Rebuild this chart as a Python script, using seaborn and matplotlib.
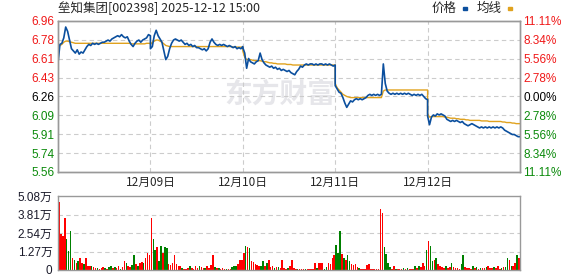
import numpy as np
import pandas as pd
import matplotlib
matplotlib.use("Agg")
import matplotlib.pyplot as plt
import matplotlib.patches as mpatches
import seaborn as sns

# ---------------- data ----------------
title = "垒知集团[002398] 2025-12-12 15:00"
day_labels = ["12月08日", "12月09日", "12月10日", "12月11日", "12月12日"]
pre_close = 6.26
price_labels = ["6.96", "6.78", "6.61", "6.43", "6.26", "6.09", "5.91", "5.74", "5.56"]
pct_labels = ["11.11%", "8.34%", "5.56%", "2.78%", "0.00%", "2.78%", "5.56%", "8.34%", "11.11%"]
vol_tick_values = [0, 12700, 25400, 38100, 50800]
vol_tick_labels = ["0", "1.27万", "2.54万", "3.81万", "5.08万"]

# price every 5 minutes (0..240) for each day
price_d1 = [6.57, 6.74, 6.75, 6.80, 6.90, 6.86, 6.78, 6.70, 6.68, 6.66, 6.69, 6.65, 6.67, 6.66, 6.69,
            6.72, 6.74, 6.73, 6.75, 6.74, 6.75, 6.74, 6.75, 6.76, 6.76,
            6.77, 6.78, 6.77, 6.79, 6.80, 6.81, 6.82, 6.81, 6.83, 6.81, 6.80, 6.81, 6.77, 6.74, 6.72,
            6.75, 6.77, 6.78, 6.76, 6.78, 6.79, 6.80, 6.83, 6.82]
price_d2 = [6.70, 6.72, 6.82, 6.87, 6.82, 6.79, 6.76, 6.68, 6.60, 6.63, 6.70, 6.75, 6.78, 6.79, 6.78,
            6.77, 6.78, 6.76, 6.74, 6.75, 6.73, 6.74, 6.72, 6.73, 6.71,
            6.71, 6.70, 6.69, 6.70, 6.68, 6.70, 6.76, 6.79, 6.76, 6.74, 6.73, 6.74, 6.73, 6.74, 6.73,
            6.72, 6.73, 6.72, 6.71, 6.72, 6.70, 6.71, 6.70, 6.72]
price_d3 = [6.71, 6.66, 6.52, 6.61, 6.58, 6.57, 6.56, 6.58, 6.59, 6.66, 6.60, 6.57, 6.55, 6.54, 6.53,
            6.54, 6.52, 6.53, 6.51, 6.52, 6.50, 6.51, 6.50, 6.49, 6.50,
            6.48, 6.47, 6.46, 6.49, 6.51, 6.54, 6.53, 6.55, 6.56, 6.55, 6.56, 6.56, 6.55, 6.56, 6.55,
            6.56, 6.56, 6.55, 6.56, 6.55, 6.56, 6.55, 6.54, 6.55]
price_d4 = [6.36, 6.33, 6.30, 6.29, 6.25, 6.20, 6.16, 6.19, 6.22, 6.21, 6.23, 6.24, 6.23, 6.24, 6.23,
            6.24, 6.25, 6.27, 6.28, 6.27, 6.28, 6.27, 6.28, 6.27, 6.28,
            6.56, 6.38, 6.31, 6.29, 6.28, 6.29, 6.28, 6.29, 6.28, 6.29, 6.28, 6.29, 6.28, 6.29, 6.28,
            6.27, 6.28, 6.27, 6.28, 6.27, 6.28, 6.26, 6.24, 6.23]
price_d5 = [6.08, 6.00, 6.07, 6.09, 6.08, 6.10, 6.09, 6.10, 6.09, 6.08, 6.05, 6.04, 6.03, 6.04, 6.03,
            6.04, 6.03, 6.02, 6.03, 6.01, 6.00, 5.99, 6.00, 6.01, 6.00,
            5.99, 5.98, 5.97, 5.98, 5.97, 5.98, 5.97, 5.98, 5.97, 5.98, 5.97, 5.98, 5.97, 5.98, 5.97,
            5.95, 5.94, 5.93, 5.92, 5.91, 5.91, 5.90, 5.89, 5.89]

avg_d1 = [6.70, 6.73, 6.74, 6.76, 6.77, 6.77, 6.765, 6.76, 6.755, 6.75, 6.75, 6.75, 6.75, 6.75, 6.75,
          6.75, 6.75, 6.75, 6.75, 6.75, 6.75, 6.75, 6.75, 6.75, 6.75,
          6.75, 6.75, 6.75, 6.75, 6.75, 6.75, 6.75, 6.75, 6.75, 6.75, 6.75, 6.75, 6.75, 6.745, 6.745,
          6.745, 6.745, 6.745, 6.745, 6.745, 6.745, 6.75, 6.75, 6.75]
avg_d2 = [6.74, 6.76, 6.77, 6.78, 6.78, 6.77, 6.76, 6.745, 6.73, 6.725, 6.72, 6.72, 6.72, 6.72, 6.72,
          6.72, 6.72, 6.72, 6.72, 6.72, 6.72, 6.72, 6.72, 6.72, 6.72,
          6.72, 6.72, 6.72, 6.72, 6.72, 6.72, 6.72, 6.72, 6.72, 6.72, 6.72, 6.72, 6.72, 6.72, 6.72,
          6.72, 6.72, 6.72, 6.715, 6.715, 6.715, 6.715, 6.715, 6.715]
avg_d3 = [6.68, 6.62, 6.60, 6.60, 6.60, 6.595, 6.59, 6.59, 6.59, 6.59, 6.585, 6.58, 6.58, 6.575, 6.57,
          6.57, 6.565, 6.565, 6.56, 6.56, 6.56, 6.56, 6.56, 6.555, 6.555,
          6.555, 6.55, 6.55, 6.55, 6.55, 6.55, 6.55, 6.55, 6.55, 6.55, 6.55, 6.55, 6.55, 6.55, 6.55,
          6.55, 6.55, 6.55, 6.55, 6.55, 6.55, 6.55, 6.55, 6.55]
avg_d4 = [6.38, 6.34, 6.32, 6.30, 6.28, 6.27, 6.26, 6.255, 6.25, 6.25, 6.25, 6.25, 6.25, 6.25, 6.25,
          6.25, 6.25, 6.25, 6.25, 6.25, 6.25, 6.25, 6.25, 6.25, 6.25,
          6.31, 6.32, 6.32, 6.32, 6.32, 6.32, 6.32, 6.32, 6.32, 6.32, 6.32, 6.32, 6.32, 6.32, 6.32,
          6.32, 6.32, 6.32, 6.32, 6.32, 6.32, 6.32, 6.32, 6.32]
avg_d5 = [6.10, 6.07, 6.075, 6.075, 6.075, 6.075, 6.075, 6.075, 6.075, 6.07, 6.07, 6.065, 6.06, 6.06, 6.06,
          6.055, 6.055, 6.05, 6.05, 6.05, 6.045, 6.045, 6.04, 6.04, 6.04,
          6.04, 6.04, 6.04, 6.035, 6.035, 6.035, 6.035, 6.03, 6.03, 6.03, 6.03, 6.03, 6.03, 6.03, 6.025,
          6.025, 6.02, 6.02, 6.02, 6.015, 6.015, 6.01, 6.01, 6.01]

# volume (万 shares) per 5-minute bin, r = up, g = down
vol_d1 = [4.7, 2.5, 2.3, 3.6, 2.1, 1.3, 2.7, 0.8, 0.7, 0.5, 0.6, 0.8, 0.5, 0.4, 0.8, 0.3, 0.3, 0.25, 0.2, 0.15,
          0.12, 0.1, 0.12, 0.2, 0.15, 0.1, 0.2, 0.3, 0.15, 0.2, 0.15, 0.3, 0.1, 0.2, 0.6, 0.45, 0.3, 0.2, 0.35, 1.0,
          0.4, 0.3, 0.45, 0.55, 0.5, 0.8, 1.2, 1.0]
dir_d1 = "rrrrgggrgr" "grrgrrrgrr" "grrrgrggrg" "rrgrrgrrgg" "rgrrgrrr"
vol_d2 = [3.6, 2.1, 1.4, 1.6, 0.6, 1.65, 1.2, 1.55, 1.5, 0.4, 0.35, 0.5, 1.0, 0.4, 0.3, 0.25, 0.15, 0.1, 0.1, 0.12,
          0.3, 0.12, 0.1, 0.3, 0.15, 0.3, 0.2, 0.12, 0.15, 0.3, 0.12, 0.35, 1.0, 0.2, 0.12, 0.15, 0.1, 0.12, 0.08, 0.1,
          0.08, 0.1, 0.2, 0.3, 0.25, 0.4, 0.7, 0.7]
dir_d2 = "rggrggrggr" "rrrrrrgrrr" "grrrrgrrgr" "rrrgrgrrrg" "rrgggrrr"
vol_d3 = [1.2, 1.65, 1.55, 1.5, 0.6, 0.55, 0.4, 0.35, 0.3, 0.25, 0.6, 0.3, 0.5, 0.7, 0.2, 0.25, 0.15, 0.2, 0.2, 0.12,
          0.7, 0.15, 0.1, 0.15, 0.3, 0.7, 0.15, 0.08, 0.05, 0.08, 0.05, 0.05, 0.08, 0.05, 0.05, 0.05, 0.05, 0.5, 0.15, 0.5,
          0.45, 0.5, 0.1, 0.2, 0.5, 0.4, 0.8, 1.0]
dir_d3 = "rgrgrrrrrg" "grgrrrgrgr" "rrrgrrrrgr" "rrgrrrrrgr" "rrggrrrr"
vol_d4 = [1.75, 1.2, 2.7, 1.1, 0.8, 0.7, 1.0, 0.6, 0.4, 0.35, 0.4, 0.2, 0.12, 0.08, 0.05, 0.05, 0.35, 0.4, 0.05, 0.05,
          0.05, 0.05, 0.05, 4.2, 3.9, 1.6, 1.1, 0.5, 0.2, 0.1, 0.3, 0.1, 0.05, 0.05, 0.05, 0.15, 0.05, 0.12, 0.05, 0.05,
          0.1, 0.3, 0.15, 0.3, 0.2, 0.5, 0.3, 1.4]
dir_d4 = "gggrgrggrr" "rrgrrrrrrr" "rrrrrggggr" "rgrrrgrgrr" "rgrgrrrg"
vol_d5 = [2.0, 1.65, 0.6, 0.7, 0.85, 0.4, 0.25, 0.2, 0.15, 0.3, 0.15, 0.2, 0.45, 0.2, 0.12, 0.15, 0.1, 0.4, 1.0, 0.2,
          0.15, 0.12, 0.1, 0.25, 0.15, 0.2, 0.1, 0.15, 0.12, 0.15, 0.2, 0.3, 0.15, 0.12, 0.2, 0.12, 0.3, 0.1, 0.15, 0.2,
          0.2, 0.8, 0.7, 0.25, 0.3, 0.5, 1.0, 0.8]
dir_d5 = "rggrgrrrrg" "rrgrrrrggr" "rrrgrgrgrr" "grrrgrrrgr" "ggrgrrgr"

# ---------------- build tables ----------------
prices = [price_d1, price_d2, price_d3, price_d4, price_d5]
avgs = [avg_d1, avg_d2, avg_d3, avg_d4, avg_d5]
vols = [vol_d1, vol_d2, vol_d3, vol_d4, vol_d5]
dirs = [dir_d1, dir_d2, dir_d3, dir_d4, dir_d5]

rows = []
for d in range(5):
    for k, (p, a) in enumerate(zip(prices[d], avgs[d])):
        rows.append((d * 240 + k * 5, p, a))
pdf = pd.DataFrame(rows, columns=["t", "price", "avg"])

vrows = []
for d in range(5):
    for k, (v, s) in enumerate(zip(vols[d], dirs[d])):
        vrows.append((d * 240 + k * 5 + 2.5, v * 10000, s))
vdf = pd.DataFrame(vrows, columns=["t", "vol", "dir"])

# ---------------- figure ----------------
sns.set_style("white")
plt.rcParams["font.family"] = ["Liberation Sans", "Noto Sans CJK SC", "DejaVu Sans"]

W, H = 578, 276
fig = plt.figure(figsize=(W / 100, H / 100), dpi=100)
L, R = 58 / W, 520 / W
ax = fig.add_axes([L, 1 - 172 / H, R - L, (172 - 21) / H])
axv = fig.add_axes([L, 1 - 270 / H, R - L, (270 - 196) / H])

ymin, ymax = pre_close * (1 - 0.1111), pre_close * (1 + 0.1111)
yt = np.linspace(ymax, ymin, 9)
grid_kw = dict(color="#cccccc", lw=0.8, ls=(0, (4, 3)), zorder=0)

ax.text(0.48, 0.51, "东方财富", transform=ax.transAxes, fontsize=20, fontweight="bold",
        color="#e6e6ea", ha="center", va="center", family=["Noto Sans CJK SC"], zorder=0)

for y in yt[1:-1]:
    ax.axhline(y, **grid_kw)
for d in range(1, 5):
    ax.axvline(d * 240, **grid_kw)

sns.lineplot(data=pdf, x="t", y="avg", estimator=None, sort=False, color="#e0a21e", lw=1.0, ax=ax, zorder=3)
sns.lineplot(data=pdf, x="t", y="price", estimator=None, sort=False, color="#0b4f9e", lw=1.2, ax=ax, zorder=4)

ax.set_xlim(0, 1200)
ax.set_ylim(ymin, ymax)
ax.set_xlabel("")
ax.set_ylabel("")
ax.set_xticks([240, 480, 720, 960])
ax.set_xticklabels(day_labels[1:], fontsize=8.5, family=["Noto Sans CJK SC"])
ax.set_yticks(yt)
ax.set_yticklabels(price_labels, fontsize=8.5)
ax.tick_params(axis="both", length=0)
ax.tick_params(axis="y", pad=2.5)
ax.tick_params(axis="x", pad=3)
label_colors = ["#f01818"] * 4 + ["#000000"] + ["#0a8a0a"] * 4
for lbl, c in zip(ax.get_yticklabels(), label_colors):
    lbl.set_color(c)

axr = ax.twinx()
axr.set_ylim(ymin, ymax)
axr.set_yticks(yt)
axr.set_yticklabels(pct_labels, fontsize=8.5)
axr.tick_params(axis="y", length=0, pad=2.5)
for lbl, c in zip(axr.get_yticklabels(), label_colors):
    lbl.set_color(c)

for a in (ax, axr, axv):
    for s in a.spines.values():
        s.set_color("#999999")
        s.set_linewidth(1.0)

# volume
for y in vol_tick_values[1:-1]:
    axv.axhline(y, **grid_kw)
sns.barplot(data=vdf, x="t", y="vol", hue="dir", palette={"r": "#ff0000", "g": "#008000"},
            native_scale=True, dodge=False, width=0.8, errorbar=None, legend=False,
            saturation=1, linewidth=0, ax=axv, zorder=2)
axv.set_xlim(0, 1200)
axv.set_ylim(0, 50800)
axv.set_xlabel("")
axv.set_ylabel("")
axv.set_xticks([])
axv.set_yticks(vol_tick_values)
axv.set_yticklabels(vol_tick_labels, fontsize=8.5, color="#1a1a2a")
axv.tick_params(axis="y", length=0, pad=4)

# title and legend
fig.text(58 / W, 1 - 8.5 / H, title, fontsize=9, family=["Noto Sans CJK SC"], va="center", ha="left")
fig.text(432 / W, 1 - 8.5 / H, "价格", fontsize=9, family=["Noto Sans CJK SC"], va="center", ha="left")
fig.text(477 / W, 1 - 8.5 / H, "均线", fontsize=9, family=["Noto Sans CJK SC"], va="center", ha="left")
fig.patches.append(mpatches.Rectangle((462.5 / W, 1 - 10 / H), 4.5 / W, 3 / H, transform=fig.transFigure,
                                      color="#0b4f9e", figure=fig))
fig.patches.append(mpatches.Rectangle((507.5 / W, 1 - 10 / H), 4.5 / W, 3 / H, transform=fig.transFigure,
                                      color="#e0a21e", figure=fig))

fig.savefig("out.png", dpi=100)
